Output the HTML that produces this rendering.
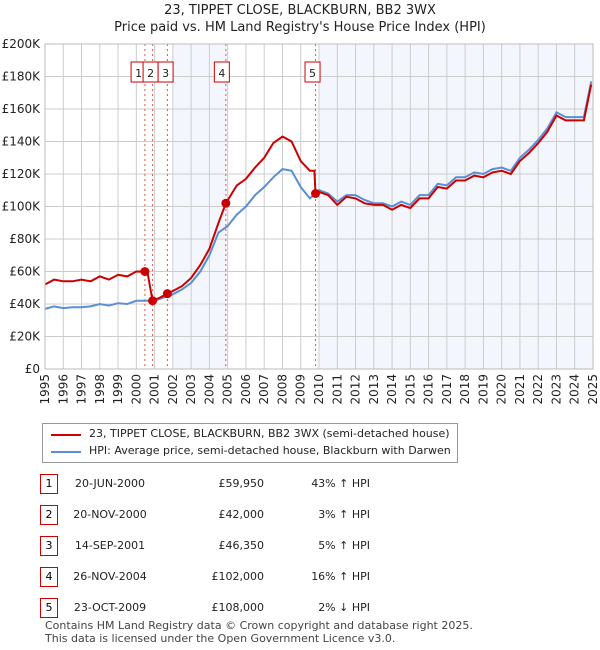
<!DOCTYPE html>
<html><head><meta charset="utf-8"><style>
body{margin:0;background:#fff;font-family:"DejaVu Sans","Liberation Sans",sans-serif;}
#wrap{position:relative;width:600px;height:650px;overflow:hidden;}
.t{position:absolute;font-size:12px;color:#222;white-space:nowrap;}
.box{position:absolute;border:1px solid #c00;width:16px;height:18px;text-align:center;line-height:18px;font-size:11px;}
</style></head><body>
<div id="wrap">
<div class="t" style="left:0;width:600px;text-align:center;top:3px;font-size:13px">23, TIPPET CLOSE, BLACKBURN, BB2 3WX</div>
<div class="t" style="left:0;width:600px;text-align:center;top:20px;font-size:13px">Price paid vs. HM Land Registry's House Price Index (HPI)</div>
<svg id="chart" width="600" height="420" style="position:absolute;left:0;top:0"></svg>
<div style="position:absolute;left:42px;top:423px;width:414px;height:38px;border:1px solid #999;">
 <svg width="50" height="38" style="position:absolute;left:0;top:0"><line x1="8" y1="11" x2="38" y2="11" stroke="#c00" stroke-width="2"/><line x1="8" y1="28" x2="38" y2="28" stroke="#5b8fd4" stroke-width="2"/></svg>
 <div class="t" style="left:46px;top:3px;font-size:11px">23, TIPPET CLOSE, BLACKBURN, BB2 3WX (semi-detached house)</div>
 <div class="t" style="left:46px;top:20px;font-size:11px">HPI: Average price, semi-detached house, Blackburn with Darwen</div>
</div>
<div id="table"></div>
<div class="t" style="left:45px;top:619px;font-size:11px;color:#444">Contains HM Land Registry data © Crown copyright and database right 2025.</div>
<div class="t" style="left:45px;top:632px;font-size:11px;color:#444">This data is licensed under the Open Government Licence v3.0.</div>
</div>
<script>
const hpiYears=[1995,1995.5,1996,1996.5,1997,1997.5,1998,1998.5,1999,1999.5,2000,2000.5,2001,2001.5,2002,2002.5,2003,2003.5,2004,2004.5,2005,2005.5,2006,2006.5,2007,2007.5,2008,2008.5,2009,2009.5,2010,2010.5,2011,2011.5,2012,2012.5,2013,2013.5,2014,2014.5,2015,2015.5,2016,2016.5,2017,2017.5,2018,2018.5,2019,2019.5,2020,2020.5,2021,2021.5,2022,2022.5,2023,2023.5,2024,2024.5,2024.9];
const hpiValues=[37,38.5,37.5,38,38,38.5,40,39,40.5,40,42,42,42,44,46,49,53,60,70,84,88,95,100,107,112,118,123,122,112,105,110,108,103,107,107,104,102,102,100,103,101,107,107,114,113,118,118,121,120,123,124,122,130,135,141,148,158,155,155,155,177];
const priceYears=[1995,1995.5,1996,1996.5,1997,1997.5,1998,1998.5,1999,1999.5,2000,2000.47,2000.6,2000.89,2001.3,2001.7,2002,2002.5,2003,2003.5,2004,2004.5,2004.9,2005.5,2006,2006.5,2007,2007.5,2008,2008.5,2009,2009.5,2009.75,2009.81,2010,2010.5,2011,2011.5,2012,2012.5,2013,2013.5,2014,2014.5,2015,2015.5,2016,2016.5,2017,2017.5,2018,2018.5,2019,2019.5,2020,2020.5,2021,2021.5,2022,2022.5,2023,2023.5,2024,2024.5,2024.9];
const priceValues=[52,55,54,54,55,54,57,55,58,57,60,59.95,60,42,44,46.35,48,51,56,64,74,90,102,113,117,124,130,139,143,140,128,122,122,108,109,107,101,106,105,102,101,101,98,101,99,105,105,112,111,116,116,119,118,121,122,120,128,133,139,146,156,153,153,153,175];
const saleLabels=["1","2","3","4","5"];
const saleYears=[2000.47,2000.89,2001.70,2004.90,2009.81];
const salePrices=[59.95,42,46.35,102,108];
const saleDates=["20-JUN-2000","20-NOV-2000","14-SEP-2001","26-NOV-2004","23-OCT-2009"];
const salePriceText=["£59,950","£42,000","£46,350","£102,000","£108,000"];
const saleHpiText=["43% ↑ HPI","3% ↑ HPI","5% ↑ HPI","16% ↑ HPI","2% ↓ HPI"];
const yTicks=[0,20,40,60,80,100,120,140,160,180,200];
const yTickLabels=["£0","£20K","£40K","£60K","£80K","£100K","£120K","£140K","£160K","£180K","£200K"];

const X0=45,X1=593,Y0=369,Y1=44;
const x=y=>X0+(y-1995)/30*(X1-X0);
const yv=v=>Y0-v/200*(Y0-Y1);
const svg=document.getElementById('chart');const NS='http://www.w3.org/2000/svg';
function mk(t,a){const e=document.createElementNS(NS,t);for(const k in a)e.setAttribute(k,a[k]);svg.appendChild(e);return e;}
let r;
r=mk('rect',{x:X0,y:Y1,width:X1-X0,height:Y0-Y1,fill:'#fff'});


[[2002,2005],[2010,2025]].forEach(s=>{const e=mk('rect',{x:x(s[0]),y:Y1,width:x(s[1])-x(s[0]),height:Y0-Y1,fill:'#eef3fc',opacity:0.7});

});
for(let yr=1995;yr<=2025;yr++){const g=mk('line',{x1:x(yr),x2:x(yr),y1:Y1,y2:Y0,stroke:'#ccc'});


const t=mk('text',{transform:`translate(${x(yr)+4},${Y0+5}) rotate(-90)`,'text-anchor':'end','font-size':12,fill:'#222','font-family':'DejaVu Sans,sans-serif'});t.textContent=yr;

}
yTicks.forEach((v,i)=>{const g=mk('line',{x1:X0,x2:X1,y1:yv(v),y2:yv(v),stroke:'#ccc'});


const t=mk('text',{x:X0-5,y:yv(v)+4,'text-anchor':'end','font-size':12,fill:'#222','font-family':'DejaVu Sans,sans-serif'});t.textContent=yTickLabels[i];

});
saleYears.forEach((s,i)=>{const l=mk('line',{x1:x(s),x2:x(s),y1:Y1,y2:Y0,stroke:'#e05555','stroke-dasharray':'2,3'});

});
const pts=(xs,vs)=>xs.map((a,i)=>x(a).toFixed(1)+','+yv(vs[i]).toFixed(1)).join(' ');
let p=mk('polyline',{points:pts(hpiYears,hpiValues),fill:'none',stroke:'#5b8fd4','stroke-width':2});


p=mk('polyline',{points:pts(priceYears,priceValues),fill:'none',stroke:'#c00','stroke-width':2});


const boxOff=[-5,-2,-1,-4,-3];
saleYears.forEach((s,i)=>{const c=mk('circle',{cx:x(s),cy:yv(salePrices[i]),r:4.5,fill:'#c00'});

});
saleYears.forEach((s,i)=>{
let cx=x(s)+boxOff[i];
if(i==2) cx=x(saleYears[1])+boxOff[1]+15;
if(i==0) cx=x(saleYears[1])+boxOff[1]-12;
const b=mk('rect',{x:cx-7.5,y:62,width:15,height:20,fill:'#fff',stroke:'#c00'});


const t=mk('text',{x:cx,y:77,'text-anchor':'middle','font-size':11,fill:'#222','font-family':'DejaVu Sans,sans-serif'});t.textContent=saleLabels[i];

});
const bd=mk('rect',{x:X0,y:Y1,width:X1-X0,height:Y0-Y1,fill:'none',stroke:'#bbb'});



const tb=document.getElementById('table');
saleLabels.forEach((l,i)=>{const top=474+i*31;
const row=document.createElement('div');


row.style.cssText=`position:absolute;left:0;top:${top}px;width:600px;height:20px`;
row.innerHTML=`<div class="box" style="left:40px;top:0">${l}</div>
<div class="t" style="left:60px;width:100px;text-align:center;top:3px;font-size:11px">${saleDates[i]}</div>
<div class="t" style="left:160px;width:104px;text-align:right;top:3px;font-size:11px">${salePriceText[i]}</div>
<div class="t" style="left:270px;width:100px;text-align:right;top:3px;font-size:11px">${saleHpiText[i]}</div>`;
tb.appendChild(row);});
</script>
</body></html>
